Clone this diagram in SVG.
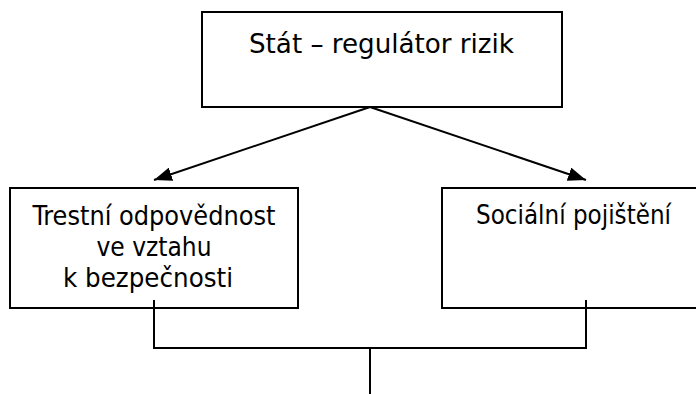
<svg xmlns="http://www.w3.org/2000/svg" width="696" height="394" viewBox="0 0 696 394">
<style>
.box{fill:#fff;stroke:#000;stroke-width:2}
.lbl{font-family:"DejaVu Sans Condensed","DejaVu Sans",sans-serif;font-stretch:condensed;font-size:27px;fill:#000;text-anchor:middle}
.con{fill:none;stroke:#000;stroke-width:2}
</style>
<defs>
<marker id="arr" markerUnits="userSpaceOnUse" markerWidth="20" markerHeight="14" refX="18" refY="7" orient="auto">
<path d="M0,0 L18,7 L0,14 Z" fill="#000"/>
</marker>
</defs>
<rect width="696" height="394" fill="#fff"/>
<g id="node-stat">
<rect class="box" x="202" y="12" width="360" height="95"/>
<text class="lbl" x="381.5" y="52.5" textLength="265" lengthAdjust="spacingAndGlyphs">Stát – regulátor rizik</text>
</g>
<g id="node-trestni">
<rect class="box" x="10" y="188" width="288" height="120"/>
<text class="lbl" x="154" y="225" textLength="243" lengthAdjust="spacingAndGlyphs">Trestní odpovědnost</text>
<text class="lbl" x="154" y="256" textLength="115" lengthAdjust="spacingAndGlyphs">ve vztahu</text>
<text class="lbl" x="148" y="287" textLength="170" lengthAdjust="spacingAndGlyphs">k bezpečnosti</text>
</g>
<g id="node-socialni">
<rect class="box" x="442" y="188" width="270" height="120"/>
<text class="lbl" x="573.5" y="224" textLength="195" lengthAdjust="spacingAndGlyphs">Sociální pojištění</text>
</g>
<g id="connectors">
<line class="con" x1="370" y1="107" x2="154" y2="180" marker-end="url(#arr)"/>
<line class="con" x1="370" y1="107" x2="586" y2="180" marker-end="url(#arr)"/>
<polyline class="con" points="154,300 154,348 586,348 586,300"/>
<line class="con" x1="370" y1="348" x2="370" y2="394"/>
</g>
</svg>
